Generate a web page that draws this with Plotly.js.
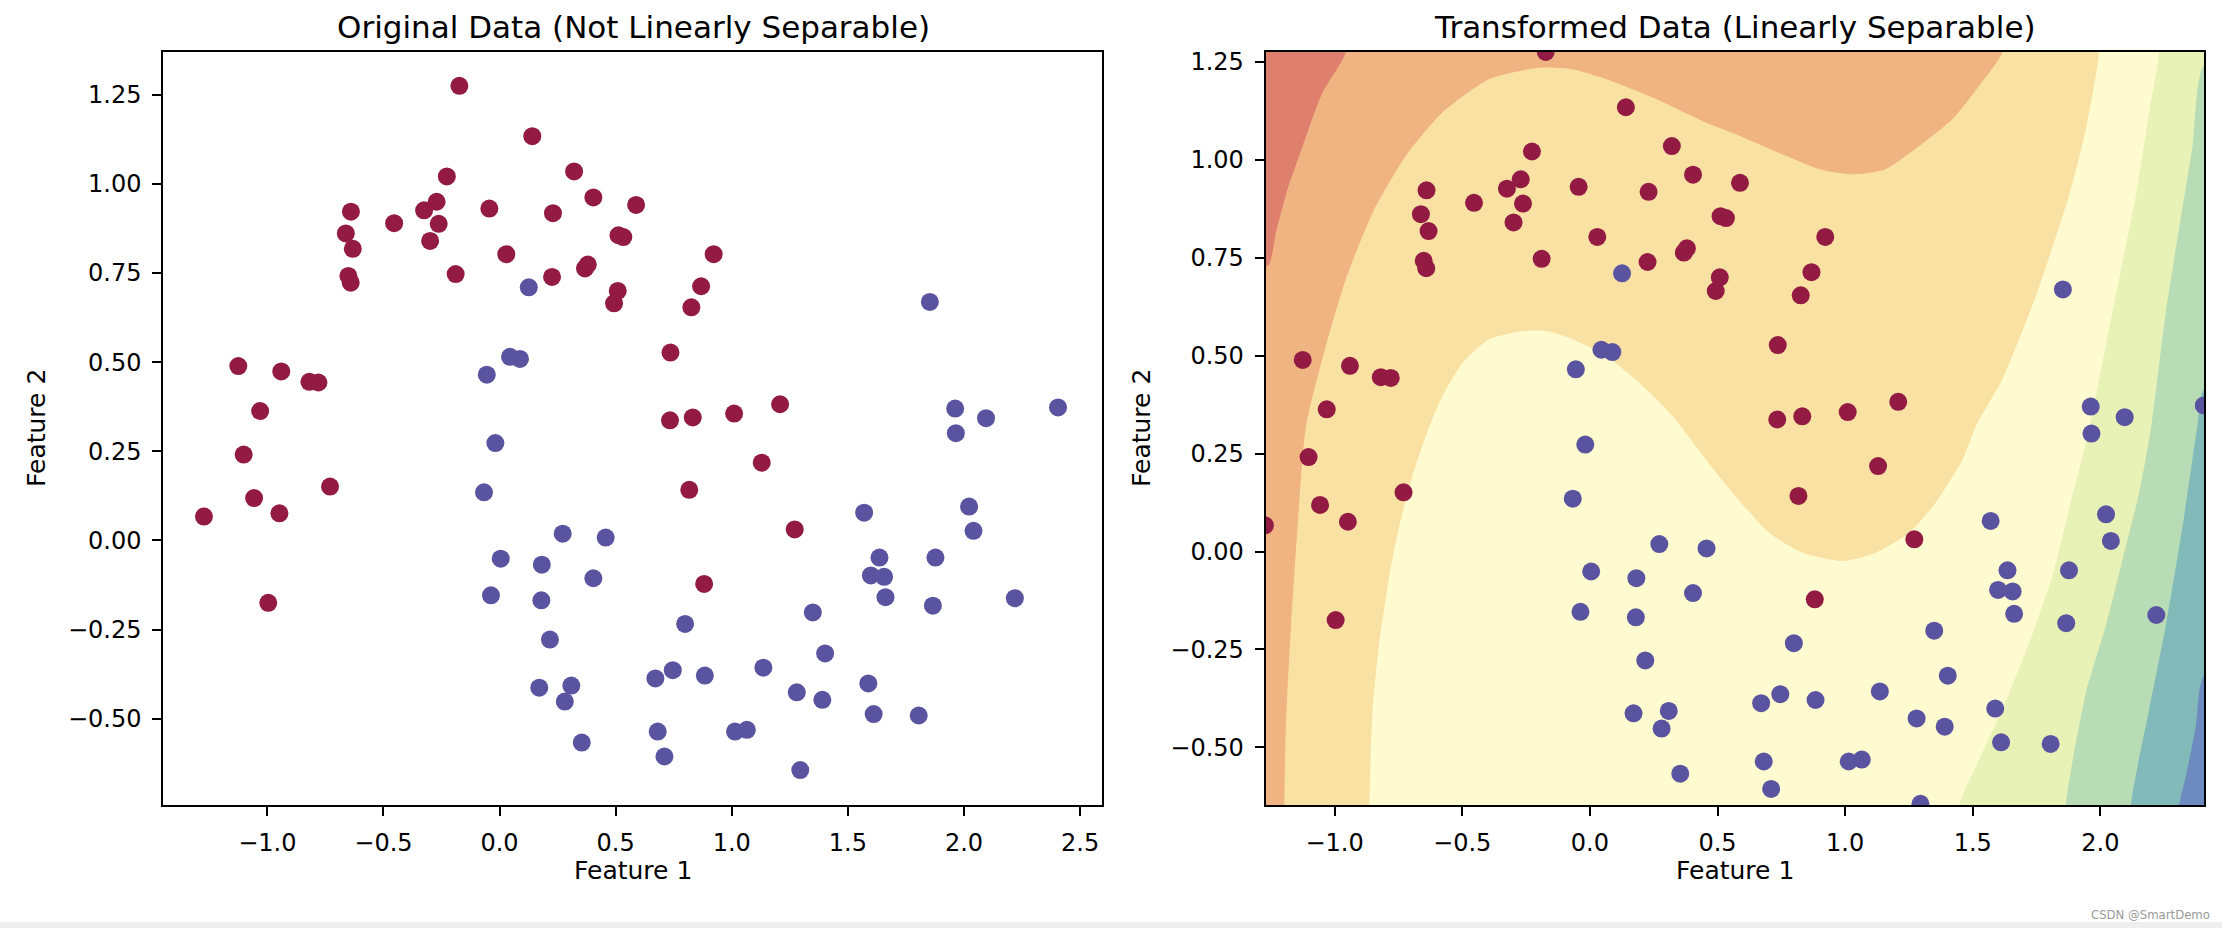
<!DOCTYPE html>
<html>
<head>
<meta charset="utf-8">
<script src="https://cdn.plot.ly/plotly-3.0.1.min.js"></script>
<style>
  body { margin: 0; background: #fff; }
  #myDiv { width: 2222px; height: 928px; }
</style>
</head>
<body>
<div id="myDiv"></div>
<script>
// moons data (class 0 = red, class 1 = blue)
const redX = [-0.173, 0.141, -0.227, 0.321, 0.404, 0.588, -0.271, -0.325, -0.044, 0.230, -0.640, -0.454, -0.262, -0.662, -0.632, -0.299, 0.512, 0.533, 0.029, -0.651, -0.641, -0.189, 0.226, 0.380, 0.368, 0.509, 0.493,
  -1.125, -0.940, -0.819, -0.780, -1.031,
  0.922, 0.868, 0.826, 0.736, 0.734, 0.832, 1.010, 1.208,
  -1.102, -0.730, -1.057, -1.273, -0.948, -0.996,
  1.129, 0.817, 1.271, 0.881];
const redY = [1.275, 1.134, 1.021, 1.035, 0.962, 0.941, 0.950, 0.926, 0.931, 0.918, 0.922, 0.890, 0.888, 0.861, 0.818, 0.840, 0.856, 0.851, 0.803, 0.742, 0.723, 0.747, 0.739, 0.774, 0.763, 0.700, 0.665,
  0.489, 0.474, 0.445, 0.443, 0.363,
  0.803, 0.713, 0.654, 0.527, 0.337, 0.345, 0.356, 0.382,
  0.241, 0.151, 0.119, 0.067, 0.076, -0.175,
  0.218, 0.142, 0.031, -0.122];
const blueX = [0.126, 0.045, 0.088, -0.055,
  1.853, 1.962, 2.095, 2.405,
  -0.018, -0.067, 0.272, 0.457, 0.005, 0.182, 0.404, -0.037, 0.180, 0.217, 0.171, 0.309, 0.281, 0.354,
  1.965, 1.570, 2.022, 2.041, 1.636, 1.877, 1.599, 1.656, 1.662, 1.866, 2.219, 1.349, 0.799, 1.402, 0.746, 0.671, 0.884, 1.136, 1.280, 1.390, 1.588, 1.611, 1.805, 0.681, 0.710, 1.014, 1.065, 1.295];
const blueY = [0.710, 0.515, 0.509, 0.465,
  0.669, 0.370, 0.343, 0.373,
  0.273, 0.135, 0.019, 0.008, -0.051, -0.068, -0.106, -0.154, -0.168, -0.278, -0.413, -0.407, -0.452, -0.567,
  0.301, 0.078, 0.095, 0.027, -0.048, -0.048, -0.098, -0.102, -0.159, -0.183, -0.162, -0.202, -0.234, -0.317, -0.364, -0.387, -0.379, -0.357, -0.426, -0.447, -0.401, -0.487, -0.491, -0.536, -0.606, -0.536, -0.531, -0.644];

// contour band edges of the right panel
const edgeRedX = [-0.956, -1.047, -1.125, -1.184, -1.230, -1.262];
const edgeRedY = [1.275, 1.172, 1.035, 0.925, 0.814, 0.729];
const edgeOrangeX = [-1.197, -1.191, -1.171, -1.145, -1.112, -1.034, -0.956, -0.851, -0.721, -0.577, -0.394, -0.199, -0.068, 0.063, 0.259, 0.454, 0.572, 0.768, 0.898, 1.029, 1.159, 1.290, 1.421, 1.525, 1.616];
const edgeOrangeY = [-0.650, -0.446, -0.190, 0.065, 0.320, 0.525, 0.695, 0.865, 1.010, 1.121, 1.206, 1.235, 1.231, 1.206, 1.155, 1.095, 1.065, 1.010, 0.976, 0.963, 0.976, 1.035, 1.104, 1.189, 1.275];
const edgeLightX = [-0.864, -0.851, -0.825, -0.786, -0.747, -0.695, -0.629, -0.577, -0.499, -0.394, -0.264, -0.172, -0.068, 0.063, 0.193, 0.324, 0.454, 0.572, 0.702, 0.833, 0.990, 1.120, 1.251, 1.355, 1.460, 1.512, 1.616, 1.747, 1.877, 1.943, 1.995];
const edgeLightY = [-0.650, -0.403, -0.233, -0.063, 0.065, 0.193, 0.320, 0.397, 0.482, 0.542, 0.563, 0.563, 0.542, 0.499, 0.431, 0.346, 0.235, 0.140, 0.048, -0.003, -0.024, -0.003, 0.048, 0.125, 0.235, 0.320, 0.440, 0.652, 0.908, 1.078, 1.275];
const edgeLimeX = [2.230, 2.191, 2.139, 2.073, 2.021, 1.955, 1.877, 1.812, 1.721, 1.616, 1.525, 1.447];
const edgeLimeY = [1.275, 1.121, 0.908, 0.695, 0.525, 0.310, 0.108, -0.063, -0.233, -0.403, -0.531, -0.650];
const edgeGreenX = [2.406, 2.361, 2.308, 2.256, 2.198, 2.152, 2.087, 2.021, 1.943, 1.864];
const edgeGreenY = [1.240, 1.035, 0.823, 0.610, 0.314, 0.150, -0.020, -0.190, -0.361, -0.650];
const edgeTealX = [2.406, 2.380, 2.322, 2.256, 2.191, 2.119];
const edgeTealY = [0.414, 0.320, 0.065, -0.190, -0.403, -0.650];
const edgeBlueX = [2.406, 2.374, 2.335, 2.308];
const edgeBlueY = [-0.318, -0.446, -0.573, -0.650];

const xRange1 = [-1.448, 2.593];
const yRange1 = [-0.742, 1.370];
const xRange2 = [-1.270, 2.407];
const yRange2 = [-0.647, 1.275];

const redCol = "#931b43";
const blueCol = "#5a54a0";

// outside corners so the fills run past the plot edge and get clipped
const X0 = xRange2[0] - 0.2, X1 = xRange2[1] + 0.2;
const Y0 = yRange2[0] - 0.2, Y1 = yRange2[1] + 0.2;
const last = (a) => a[a.length - 1];

function band(x, y, color) {
  return {
    x: x, y: y, xaxis: "x2", yaxis: "y2",
    type: "scatter", mode: "lines", fill: "toself", fillcolor: color,
    line: { width: 0, shape: "spline", smoothing: 0.6, color: color },
    hoverinfo: "skip", showlegend: false,
  };
}

var bands = [
  band([X0, X1, X1, X0], [Y0, Y0, Y1, Y1], "#fefbd0"),
  band([edgeLightX[0]].concat(edgeLightX, [last(edgeLightX), X0, X0]),
       [Y0].concat(edgeLightY, [Y1, Y1, Y0]), "#f9e1a4"),
  band([edgeOrangeX[0]].concat(edgeOrangeX, [last(edgeOrangeX), X0, X0]),
       [Y0].concat(edgeOrangeY, [Y1, Y1, Y0]), "#f0b482"),
  band([edgeRedX[0]].concat(edgeRedX, [X0, X0]),
       [Y1].concat(edgeRedY, [last(edgeRedY), Y1]), "#df806f"),
  band([edgeLimeX[0]].concat(edgeLimeX, [last(edgeLimeX), X1, X1]),
       [Y1].concat(edgeLimeY, [Y0, Y0, Y1]), "#e8f2b6"),
  band([X1].concat(edgeGreenX, [last(edgeGreenX), X1]),
       [edgeGreenY[0]].concat(edgeGreenY, [Y0, Y0]), "#b8dcb5"),
  band([X1].concat(edgeTealX, [last(edgeTealX), X1]),
       [edgeTealY[0]].concat(edgeTealY, [Y0, Y0]), "#82bab9"),
  band([X1].concat(edgeBlueX, [last(edgeBlueX), X1]),
       [edgeBlueY[0]].concat(edgeBlueY, [Y0, Y0]), "#6d8bbf"),
];

function dots(x, y, color, xa, ya) {
  return {
    x: x, y: y, xaxis: xa, yaxis: ya,
    type: "scatter", mode: "markers",
    marker: { size: 18, color: color, line: { width: 0 } },
    hoverinfo: "x+y", showlegend: false,
  };
}

var data = bands.concat([
  dots(redX, redY, redCol, "x", "y"),
  dots(blueX, blueY, blueCol, "x", "y"),
  dots(redX, redY, redCol, "x2", "y2"),
  dots(blueX, blueY, blueCol, "x2", "y2"),
]);

const font = "DejaVu Sans, Verdana, sans-serif";

function axis(range, dtick, fmt, dom, anchor) {
  return {
    range: range, domain: dom, anchor: anchor,
    dtick: dtick, tick0: 0, tickformat: fmt,
    showgrid: false, zeroline: false,
    showline: true, mirror: true, linecolor: "#000", linewidth: 2,
    ticks: "outside", ticklen: 9, tickwidth: 2, tickcolor: "#000",
    ticklabelstandoff: 6,
    tickfont: { family: font, size: 24, color: "#000" },
    fixedrange: true,
  };
}

const yDom = [1 - 805 / 928, 1 - 52 / 928];

function label(text, x, y, size, angle) {
  return {
    text: text, x: x, y: y, xref: "paper", yref: "paper",
    xanchor: "center", yanchor: "middle", showarrow: false,
    textangle: angle || 0,
    font: { family: font, size: size, color: "#000" },
  };
}

var layout = {
  width: 2222, height: 928, autosize: false,
  margin: { l: 0, r: 0, t: 0, b: 0 },
  paper_bgcolor: "#fff", plot_bgcolor: "rgba(0,0,0,0)",
  showlegend: false,
  xaxis: axis(xRange1, 0.5, ".1f", [163.3 / 2222, 1101.7 / 2222], "y"),
  yaxis: axis(yRange1, 0.25, ".2f", yDom, "x"),
  xaxis2: axis(xRange2, 0.5, ".1f", [1265.7 / 2222, 2204.3 / 2222], "y2"),
  yaxis2: axis(yRange2, 0.25, ".2f", yDom, "x2"),
  annotations: [
    label("Original Data (Not Linearly Separable)", 633 / 2222, 1 - 27 / 928, 31),
    label("Transformed Data (Linearly Separable)", 1735 / 2222, 1 - 27 / 928, 31),
    label("Feature 1", 633 / 2222, 1 - 870 / 928, 25),
    label("Feature 1", 1735 / 2222, 1 - 870 / 928, 25),
    label("Feature 2", 36 / 2222, 1 - 428 / 928, 25, -90),
    label("Feature 2", 1141 / 2222, 1 - 428 / 928, 25, -90),
    {
      text: "CSDN @SmartDemo", x: 2212 / 2222, y: 1 - 914 / 928,
      xref: "paper", yref: "paper", xanchor: "right", yanchor: "middle",
      showarrow: false,
      font: { family: "DejaVu Sans Condensed, DejaVu Sans", size: 13, color: "#9a9a9a" },
    },
  ],
  shapes: [
    // grey strip along the bottom of the screenshot
    { type: "rect", xref: "paper", yref: "paper", x0: 0, x1: 1, y0: 0, y1: 6 / 928,
      fillcolor: "#eeeeee", line: { width: 0 }, layer: "below" },
  ],
};

Plotly.newPlot("myDiv", data, layout, { displayModeBar: false, staticPlot: true });
</script>
</body>
</html>
